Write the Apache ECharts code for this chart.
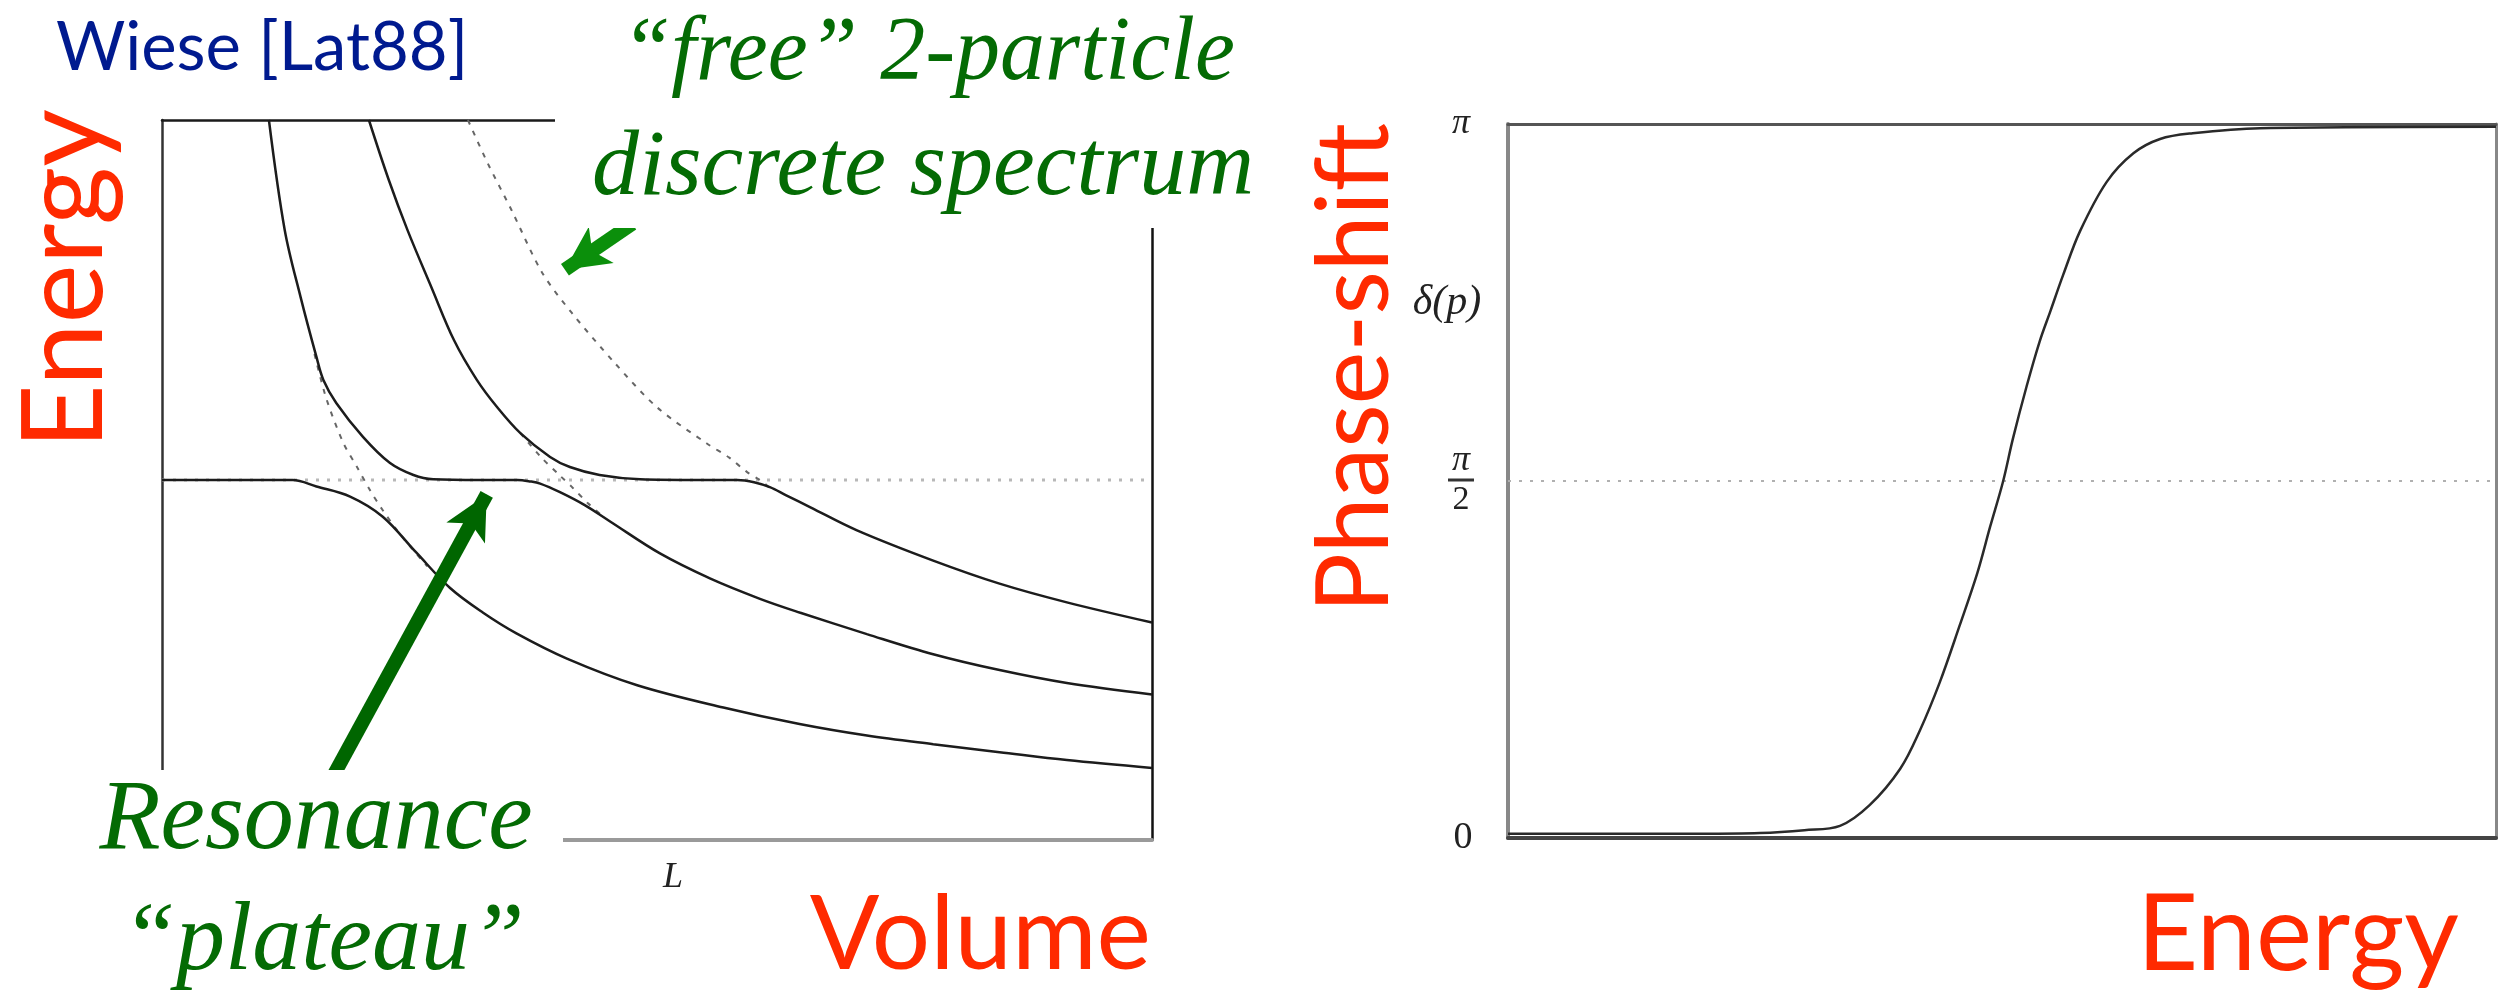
<!DOCTYPE html>
<html><head><meta charset="utf-8">
<script src="https://cdn.jsdelivr.net/npm/echarts@6/dist/echarts.min.js"></script>
<style>html,body{margin:0;padding:0;background:#fff;}#c{width:2508px;height:994px;}</style>
</head><body><div id="c"></div>
<script>
// ---- Left panel: finite-volume energy levels vs L (axis units 0..100) ----
const plateauLevel = [[0, 50], [100, 50]];
const levelLow = [[0,50],[8.9,50],[13.2,50],[15.6,49.1],[19.0,47.7],[22.3,44.9],[25.7,39.9],[29.1,35.0],[32.4,31.6],[35.8,28.7],[40.9,25.2],[48,21.5],[56.7,18.4],[64.4,16.1],[71.2,14.5],[77.9,13.3],[84.6,12.2],[91.4,11.1],[100,10.0]];
const levelMid = [[10.8,100],[12.4,84.7],[14.0,75.4],[15.6,67.1],[16.3,63.9],[17.6,60.7],[20.3,56.0],[23.0,52.4],[25.4,50.7],[27.4,50.1],[32.1,50.0],[35.9,50.0],[37.2,49.8],[38.2,49.5],[40.2,48.3],[42.7,46.5],[45.3,44.2],[50.3,39.8],[55.4,36.3],[60.4,33.5],[64.4,31.6],[71.2,28.6],[77.9,25.8],[84.6,23.6],[91.4,21.8],[100,20.2]];
const levelHigh = [[20.9,100],[22.9,91.7],[24.8,84.7],[27.2,76.8],[29.5,69.4],[31.8,63.9],[33.8,60.2],[36.2,56.5],[39.2,53.2],[41.2,51.8],[44.2,50.7],[48.3,50.1],[54.3,50.0],[58.1,50.0],[59.8,49.7],[61.4,49.0],[63.0,47.9],[65.5,46.2],[70.2,43.0],[77.9,38.8],[84.6,35.6],[91.4,33.0],[100,30.2]];
const freeLevel1 = [[15.4,67.5],[16.6,61.3],[18.3,55.2],[19.7,51.8],[21.0,48.6],[22.3,45.8],[23.7,43.1],[25.1,40.7],[26.8,38.0]];
const freeLevel2 = [[36.2,56.5],[38.2,53.3],[40.2,50.6],[41.5,48.9],[43.0,46.8],[44.5,45.0]];
const freeLevel3 = [[30.9,100],[32.9,94.0],[35.3,87.5],[38.4,78.8],[41.4,73.2],[45.7,66.3],[50.0,60.1],[55.0,55.1],[57.3,53.1],[59.1,51.1],[60.4,50.0],[61.4,48.9]];
const arrowResonance = [[17.3, 8.9], [32.8, 48.0]];
const arrowFree = [[47.5, 85.6], [40.7, 79.2]];

// ---- Right panel: phase shift delta(p) in units of pi vs energy ----
const halfPiLine = [[0, 0.5], [100, 0.5]];
const phaseShift = [[0,0.006],[19.4,0.006],[25.5,0.007],[30,0.011],[33.6,0.017],[36.6,0.046],[39.7,0.097],[41.7,0.151],[43.7,0.218],[45.7,0.297],[47.5,0.371],[48.8,0.436],[50.1,0.499],[51.1,0.559],[52.5,0.633],[53.8,0.695],[54.9,0.738],[56.2,0.789],[57.9,0.850],[60.6,0.919],[63.3,0.959],[66.0,0.979],[69.3,0.987],[76.1,0.994],[100,0.996]];
const phaseTickLabels = [[0, '0'], [0.5, 'half'], [0.75, 'delta'], [1, 'pi']];

const chart = echarts.init(document.getElementById('c'), null, {renderer: 'canvas'});
const hidden = {axisTick: {show: false}, axisLabel: {show: false}, splitLine: {show: false}};
function ax(o) { return Object.assign({type: 'value'}, hidden, o); }

const greenDark = '#046b04';
const red = '#ff2a00';
const SERIF = '"Liberation Serif", "DejaVu Serif", serif';

function txt(x, y, text, font, fill, align, rot) {
  const el = {type: 'text', z: 11, x: x, y: y,
    style: {text: text, font: font, fill: fill, align: align, verticalAlign: 'middle',
            textAlign: align, textVerticalAlign: 'middle'}};
  if (rot) el.rotation = rot;
  return el;
}

chart.setOption({
  animation: false,
  backgroundColor: '#fff',
  grid: [
    {left: 162, right: 1356, top: 120, bottom: 154},
    {left: 1508, right: 12, top: 124, bottom: 156}
  ],
  xAxis: [
    ax({gridIndex: 0, min: 0, max: 100, position: 'bottom',
        axisLine: {onZero: false, lineStyle: {color: '#9a9a9a', width: 4}},
        name: 'L', nameLocation: 'middle', nameGap: 20,
        nameTextStyle: {fontFamily: 'Liberation Serif', fontStyle: 'italic', fontSize: 36, color: '#222', padding: [0, 0, 0, 32]}}),
    ax({gridIndex: 0, min: 0, max: 100, position: 'top', axisLine: {onZero: false, lineStyle: {color: '#1a1a1a', width: 2.5}}}),
    ax({gridIndex: 1, min: 0, max: 100, position: 'bottom', axisLine: {onZero: false, lineStyle: {color: '#444', width: 4}}}),
    ax({gridIndex: 1, min: 0, max: 100, position: 'top', axisLine: {onZero: false, lineStyle: {color: '#555', width: 3}}})
  ],
  yAxis: [
    ax({gridIndex: 0, min: 0, max: 100, position: 'left', axisLine: {onZero: false, lineStyle: {color: '#333', width: 2.5}}}),
    ax({gridIndex: 0, min: 0, max: 100, position: 'right', axisLine: {onZero: false, lineStyle: {color: '#111', width: 2.5}}}),
    {type: 'value', gridIndex: 1, min: 0, max: 1, interval: 0.25, position: 'left',
     axisLine: {show: true, onZero: false, lineStyle: {color: '#888', width: 4}},
     axisTick: {show: false}, splitLine: {show: false},
     axisLabel: {
       margin: 47, align: 'center', color: '#222', fontFamily: 'Liberation Serif', fontSize: 34,
       formatter: function (v) {
         const hit = phaseTickLabels.find(t => Math.abs(t[0] - v) < 1e-6);
         if (!hit) return '';
         if (hit[1] === 'half') return '{n|π}\n{bar| }\n{d|2}';
         if (hit[1] === 'delta') return '{dp|δ(p)}';
         if (hit[1] === 'pi') return '{n|π}';
         return '{z|0}';
       },
       rich: {
         n: {fontFamily: 'Liberation Serif', fontStyle: 'italic', fontSize: 36, lineHeight: 30, color: '#222'},
         d: {fontFamily: 'Liberation Serif', fontSize: 34, lineHeight: 32, color: '#222'},
         bar: {width: 26, height: 3, lineHeight: 8, backgroundColor: '#333', fontSize: 2},
         dp: {fontFamily: 'Liberation Serif', fontStyle: 'italic', fontSize: 42, color: '#222', padding: [0, 28, 0, 0]},
         z: {fontFamily: 'Liberation Serif', fontSize: 38, color: '#222', padding: [0, 0, 0, 4]}
       }
     }},
    ax({gridIndex: 1, min: 0, max: 1, position: 'right', axisLine: {onZero: false, lineStyle: {color: '#888', width: 3}}})
  ],
  series: [
    {type: 'line', xAxisIndex: 0, yAxisIndex: 0, data: plateauLevel, symbol: 'none', z: 1,
     lineStyle: {color: '#b8b8b8', width: 3, type: [3, 8]}},
    {type: 'line', xAxisIndex: 0, yAxisIndex: 0, data: freeLevel1, symbol: 'none', smooth: 0.3, z: 2,
     lineStyle: {color: '#666', width: 2, type: [5, 7]}},
    {type: 'line', xAxisIndex: 0, yAxisIndex: 0, data: freeLevel2, symbol: 'none', smooth: 0.3, z: 2,
     lineStyle: {color: '#666', width: 2, type: [5, 7]}},
    {type: 'line', xAxisIndex: 0, yAxisIndex: 0, data: freeLevel3, symbol: 'none', smooth: 0.3, z: 2,
     lineStyle: {color: '#666', width: 2, type: [5, 7]}},
    {type: 'line', xAxisIndex: 0, yAxisIndex: 0, data: levelLow, symbol: 'none', smooth: 0.35, z: 3,
     lineStyle: {color: '#1c1c1c', width: 2.5}},
    {type: 'line', xAxisIndex: 0, yAxisIndex: 0, data: levelMid, symbol: 'none', smooth: 0.35, z: 3,
     lineStyle: {color: '#1c1c1c', width: 2.5}},
    {type: 'line', xAxisIndex: 0, yAxisIndex: 0, data: levelHigh, symbol: 'none', smooth: 0.35, z: 3,
     lineStyle: {color: '#1c1c1c', width: 2.5}},
    {type: 'line', xAxisIndex: 0, yAxisIndex: 0, data: [], z: 20, silent: true,
     markLine: {silent: true, symbol: ['none', 'arrow'], symbolSize: [33, 44], label: {show: false}, animation: false,
       data: [
         [{coord: arrowResonance[0], lineStyle: {color: '#006600', width: 14, type: 'solid'}}, {coord: arrowResonance[1]}],
         [{coord: arrowFree[0], lineStyle: {color: '#0b8f0b', width: 14, type: 'solid'}}, {coord: arrowFree[1]}]
       ]}},
    {type: 'line', xAxisIndex: 2, yAxisIndex: 2, data: halfPiLine, symbol: 'none', z: 1,
     lineStyle: {color: '#b0b0b0', width: 2, type: [3, 8]}},
    {type: 'line', xAxisIndex: 2, yAxisIndex: 2, data: phaseShift, symbol: 'none', smooth: 0.35, z: 3,
     lineStyle: {color: '#2a2a2a', width: 2.5}}
  ],
  graphic: [
    {type: 'rect', z: 10, shape: {x: 555, y: 0, width: 745, height: 228}, style: {fill: '#fff'}},
    {type: 'rect', z: 10, shape: {x: 0, y: 770, width: 563, height: 224}, style: {fill: '#fff'}},
    txt(56, 48, 'Wiese [Lat88]', '67px Lato', '#001a8f', 'left'),
    txt(928, 55, '“free” 2-particle', 'italic 90px ' + SERIF, greenDark, 'center'),
    txt(923, 169, 'discrete spectrum', 'italic 94px ' + SERIF, greenDark, 'center'),
    txt(316, 822, 'Resonance', 'italic 100px ' + SERIF, greenDark, 'center'),
    txt(323, 943, '“plateau”', 'italic 98px ' + SERIF, greenDark, 'center'),
    txt(66, 279, 'Energy', '112px Lato', red, 'center', Math.PI / 2),
    txt(1356, 368, 'Phase-shift', '100px Lato', red, 'center', Math.PI / 2),
    txt(1151, 936, 'Volume', '103px Lato', red, 'right'),
    txt(2298, 936, 'Energy', '106px Lato', red, 'center')
  ]
});
</script></body></html>
